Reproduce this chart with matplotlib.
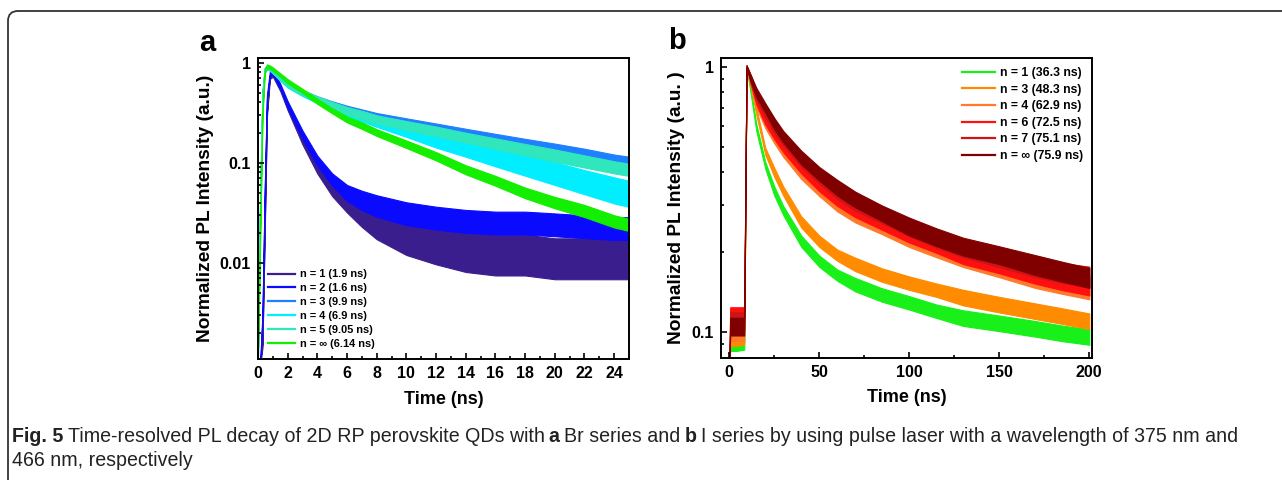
import numpy as np
import matplotlib
matplotlib.use('Agg')
import matplotlib.pyplot as plt
from matplotlib.lines import Line2D
from matplotlib.path import Path
import matplotlib.patches as mpatches
from matplotlib.ticker import FixedLocator, NullFormatter, FixedFormatter, MultipleLocator

plt.rcParams['font.family'] = ['Liberation Sans', 'DejaVu Sans']

# ---- panel a : Br series (time in ns, normalized PL) ----
t_a = [0.0, 0.15, 0.3, 0.45, 0.6, 0.8, 1.0, 1.5, 2, 3, 4, 5, 6, 7, 8, 10, 12, 14, 16, 18, 20, 22, 24, 25]
a_n1 = [0.0010, 0.0010, 0.0015, 0.02, 0.30, 0.72, 0.76, 0.55, 0.36, 0.17, 0.092, 0.058, 0.042, 0.032, 0.025,
        0.018, 0.015, 0.013, 0.012, 0.012, 0.011, 0.011, 0.011, 0.011]
a_n2 = [0.0010, 0.0010, 0.0030, 0.05, 0.45, 0.78, 0.80, 0.58, 0.38, 0.19, 0.105, 0.068, 0.050, 0.042, 0.037,
        0.031, 0.028, 0.026, 0.025, 0.025, 0.024, 0.023, 0.022, 0.022]
a_n3 = [0.0015, 0.05, 0.50, 0.85, 0.90, 0.87, 0.82, 0.70, 0.60, 0.50, 0.43, 0.38, 0.34, 0.31, 0.285,
        0.25, 0.22, 0.195, 0.172, 0.152, 0.135, 0.12, 0.105, 0.10]
a_n4 = [0.0015, 0.04, 0.45, 0.83, 0.89, 0.86, 0.81, 0.69, 0.59, 0.49, 0.42, 0.365, 0.32, 0.29, 0.26,
        0.21, 0.17, 0.14, 0.115, 0.095, 0.078, 0.064, 0.053, 0.049]
a_n5 = [0.0015, 0.05, 0.48, 0.84, 0.90, 0.87, 0.82, 0.70, 0.60, 0.50, 0.43, 0.375, 0.33, 0.30, 0.27,
        0.235, 0.205, 0.178, 0.155, 0.135, 0.118, 0.103, 0.09, 0.085]
a_ninf = [0.0012, 0.02, 0.30, 0.80, 0.92, 0.90, 0.86, 0.75, 0.65, 0.52, 0.41, 0.33, 0.27, 0.235, 0.20,
          0.153, 0.116, 0.085, 0.066, 0.050, 0.040, 0.033, 0.026, 0.024]
# relative half-width of the noisy band
a_n1_noise = [0.05, 0.05, 0.05, 0.05, 0.05, 0.05, 0.05, 0.06, 0.08, 0.12, 0.18, 0.25, 0.32, 0.4, 0.45,
              0.5, 0.55, 0.6, 0.6, 0.6, 0.6, 0.6, 0.6, 0.6]
a_n2_noise = [0.05, 0.05, 0.05, 0.05, 0.05, 0.05, 0.05, 0.06, 0.08, 0.1, 0.12, 0.15, 0.2, 0.25, 0.28,
              0.3, 0.3, 0.3, 0.3, 0.3, 0.3, 0.3, 0.3, 0.3]
a_n3_noise = [0.04, 0.04, 0.04, 0.04, 0.04, 0.04, 0.04, 0.05, 0.05, 0.06, 0.07, 0.08, 0.09, 0.1, 0.1,
              0.11, 0.12, 0.12, 0.13, 0.14, 0.15, 0.15, 0.15, 0.15]
a_n4_noise = [0.04, 0.04, 0.04, 0.04, 0.04, 0.04, 0.04, 0.05, 0.05, 0.06, 0.07, 0.08, 0.1, 0.12, 0.14,
              0.16, 0.2, 0.22, 0.25, 0.28, 0.3, 0.32, 0.35, 0.35]
a_n5_noise = a_n3_noise
a_ninf_noise = [0.04, 0.04, 0.04, 0.04, 0.04, 0.04, 0.04, 0.04, 0.05, 0.05, 0.06, 0.06, 0.07, 0.08, 0.08,
                0.09, 0.1, 0.11, 0.12, 0.13, 0.14, 0.15, 0.15, 0.15]
a_labels = ['n = 1 (1.9 ns)', 'n = 2 (1.6 ns)', 'n = 3 (9.9 ns)', 'n = 4 (6.9 ns)',
            'n = 5 (9.05 ns)', 'n = \u221e (6.14 ns)']
a_colors = ['#3b1e8e', '#0a0aff', '#1e80ff', '#00eeff', '#30e6bc', '#14ee00']

# ---- panel b : I series ----
t_b = [0, 0.5, 4, 8.3, 9.6, 12, 15, 20, 25, 30, 40, 50, 60, 70, 85, 100, 115, 130, 150, 170, 185, 200]
b_n1 = [0.07, 0.091, 0.091, 0.092, 1.0, 0.80, 0.59, 0.425, 0.34, 0.287, 0.22, 0.185, 0.164, 0.151, 0.138,
        0.129, 0.12, 0.113, 0.108, 0.103, 0.099, 0.096]
b_n3 = [0.07, 0.095, 0.095, 0.096, 1.0, 0.85, 0.68, 0.48, 0.40, 0.34, 0.26, 0.22, 0.195, 0.18, 0.164,
        0.153, 0.144, 0.135, 0.127, 0.12, 0.115, 0.11]
b_n4 = [0.07, 0.10, 0.10, 0.10, 1.0, 0.87, 0.73, 0.61, 0.54, 0.48, 0.40, 0.345, 0.305, 0.277, 0.25,
        0.226, 0.207, 0.19, 0.174, 0.16, 0.152, 0.145]
b_n6 = [0.07, 0.115, 0.115, 0.115, 1.0, 0.88, 0.75, 0.63, 0.56, 0.50, 0.42, 0.36, 0.32, 0.29, 0.26,
        0.235, 0.215, 0.195, 0.18, 0.166, 0.157, 0.15]
b_n7 = [0.07, 0.11, 0.11, 0.11, 1.0, 0.90, 0.78, 0.67, 0.59, 0.53, 0.445, 0.385, 0.34, 0.307, 0.275,
        0.248, 0.225, 0.207, 0.19, 0.176, 0.167, 0.162]
b_ninf = [0.07, 0.105, 0.105, 0.105, 1.0, 0.90, 0.80, 0.70, 0.61, 0.545, 0.455, 0.395, 0.35, 0.316, 0.28,
          0.25, 0.228, 0.21, 0.195, 0.179, 0.169, 0.16]
b_noise_low = [0.0, 0.07, 0.07, 0.07, 0.01, 0.02, 0.03, 0.03, 0.04, 0.04, 0.05, 0.05, 0.05, 0.06, 0.06,
               0.06, 0.06, 0.07, 0.07, 0.07, 0.07, 0.07]
b_noise_high = [0.0, 0.08, 0.08, 0.08, 0.01, 0.03, 0.04, 0.04, 0.05, 0.05, 0.06, 0.06, 0.07, 0.07, 0.07,
                0.08, 0.08, 0.08, 0.08, 0.09, 0.09, 0.09]
b_labels = ['n = 1 (36.3 ns)', 'n = 3 (48.3 ns)', 'n = 4 (62.9 ns)', 'n = 6 (72.5 ns)',
            'n = 7 (75.1 ns)', 'n = \u221e (75.9 ns)']
b_colors = ['#19f019', '#ff8c00', '#ff7a2a', '#ff1010', '#cc1515', '#800000']

W, H = 1282, 480
fig = plt.figure(figsize=(W / 100, H / 100), dpi=100)


def band(ax, t, v, s, color):
    v = np.asarray(v, dtype=float)
    s = np.asarray(s, dtype=float)
    ax.fill_between(t, v / (1 + s), v * (1 + s), color=color, lw=0.8)


def style_axes(ax):
    for sp in ax.spines.values():
        sp.set_linewidth(1.4)
        sp.set_color('black')
    ax.tick_params(which='both', direction='in', top=False, right=False, width=1.2)
    ax.tick_params(which='major', length=4.5, labelsize=11.5, pad=5)
    ax.tick_params(which='minor', length=2.5)
    for lab in ax.get_xticklabels() + ax.get_yticklabels():
        lab.set_fontweight('bold')


# panel a
ax1 = fig.add_axes([258 / W, 1 - 359 / H, 371 / W, 301 / H])
ax1.set_yscale('log')
for v, s, c in zip([a_n1, a_n2, a_n3, a_n4, a_n5, a_ninf],
                   [a_n1_noise, a_n2_noise, a_n3_noise, a_n4_noise, a_n5_noise, a_ninf_noise], a_colors):
    band(ax1, t_a, v, s, c)
ax1.set_xlim(0, 25)
ax1.set_ylim(0.0011, 1.11)
ax1.xaxis.set_major_locator(MultipleLocator(2))
ax1.xaxis.set_minor_locator(MultipleLocator(1))
ax1.yaxis.set_major_locator(FixedLocator([0.01, 0.1, 1]))
ax1.yaxis.set_major_formatter(FixedFormatter(['0.01', '0.1', '1']))
ax1.yaxis.set_minor_locator(FixedLocator([k * 10.0 ** e for e in (-3, -2, -1) for k in range(2, 10)]))
ax1.yaxis.set_minor_formatter(NullFormatter())
style_axes(ax1)
ax1.set_xlabel('Time (ns)', fontsize=13, fontweight='bold', labelpad=7)
ax1.set_ylabel('Normalized PL Intensity (a.u.)', fontsize=13.8, fontweight='bold', labelpad=4)
h1 = [Line2D([], [], color=c, lw=1.6) for c in a_colors]
ax1.legend(h1, a_labels, loc='lower left', bbox_to_anchor=(0.0, 0.0), frameon=False,
           prop={'size': 7.9, 'weight': 'bold'}, handlelength=2.5, handletextpad=0.4,
           labelspacing=0.36, borderaxespad=0.5)

# panel b
ax2 = fig.add_axes([721 / W, 1 - 357.7 / H, 371 / W, 300 / H])
ax2.set_yscale('log')
b_noise = [b_noise_low, b_noise_low, b_noise_high, b_noise_high, b_noise_high, b_noise_high]
for v, s, c in zip([b_n1, b_n3, b_n4, b_n6, b_n7, b_ninf], b_noise, b_colors):
    band(ax2, t_b, v, s, c)
ax2.set_xlim(-4.6, 201.5)
ax2.set_ylim(0.0802, 1.08)
ax2.xaxis.set_major_locator(MultipleLocator(50))
ax2.xaxis.set_minor_locator(MultipleLocator(25))
ax2.yaxis.set_major_locator(FixedLocator([0.1, 1]))
ax2.yaxis.set_major_formatter(FixedFormatter(['0.1', '1']))
ax2.yaxis.set_minor_locator(FixedLocator([0.09] + [k / 10 for k in range(2, 10)]))
ax2.yaxis.set_minor_formatter(NullFormatter())
style_axes(ax2)
ax2.set_xlabel('Time (ns)', fontsize=13, fontweight='bold', labelpad=7)
ax2.set_ylabel('Normalized PL Intensity (a.u. )', fontsize=13.8, fontweight='bold', labelpad=5)
h2 = [Line2D([], [], color=c, lw=1.6) for c in b_colors]
ax2.legend(h2, b_labels, loc='upper right', bbox_to_anchor=(1.0, 1.0), frameon=False,
           prop={'size': 8.8, 'weight': 'bold'}, handlelength=2.7, handletextpad=0.35,
           labelspacing=0.38, borderaxespad=0.35)

fig.text(207 / W, 1 - 43 / H, 'a', fontsize=21, fontweight='bold', ha='center', va='center')
fig.text(677 / W, 1 - 41 / H, 'b', fontsize=21, fontweight='bold', ha='center', va='center')

# rounded frame (top and left edges)
verts = [(8, H), (8, 21), (8, 11), (18, 11), (W, 11)]
verts = [(x / W, 1 - y / H) for x, y in verts]
codes = [Path.MOVETO, Path.LINETO, Path.CURVE3, Path.CURVE3, Path.LINETO]
fig.patches.append(mpatches.PathPatch(Path(verts, codes), transform=fig.transFigure,
                                      fill=False, edgecolor='#333333', lw=1.3))

# caption with bold pieces
cap_font = ['Liberation Sans Narrow', 'Liberation Sans', 'DejaVu Sans']
line1 = [('Fig. 5', 'bold'), ('Time-resolved PL decay of 2D RP perovskite QDs with', 'normal'),
         ('a', 'bold'), ('Br series and', 'normal'), ('b', 'bold'),
         ('I series by using pulse laser with a wavelength of 375 nm and', 'normal')]
line2 = [('466 nm, respectively', 'normal')]
renderer = fig.canvas.get_renderer()


def put_line(pieces, x0, y, fs):
    x = x0
    made = []
    for s, w in pieces:
        t = fig.text(x / W, 1 - y / H, s, fontsize=fs, fontweight=w, family=cap_font,
                     va='center', ha='left', color='#222222')
        made.append(t)
        bb = t.get_window_extent(renderer)
        x += bb.width + fs * 0.30
    return made, x - fs * 0.30 - x0


made, width = put_line(line1, 12, 436, 12)
for t in made:
    t.remove()
fs = 12 * 1220 / width
put_line(line1, 12, 436, fs)
put_line(line2, 12, 461, fs)

fig.savefig('out.png', dpi=100)
